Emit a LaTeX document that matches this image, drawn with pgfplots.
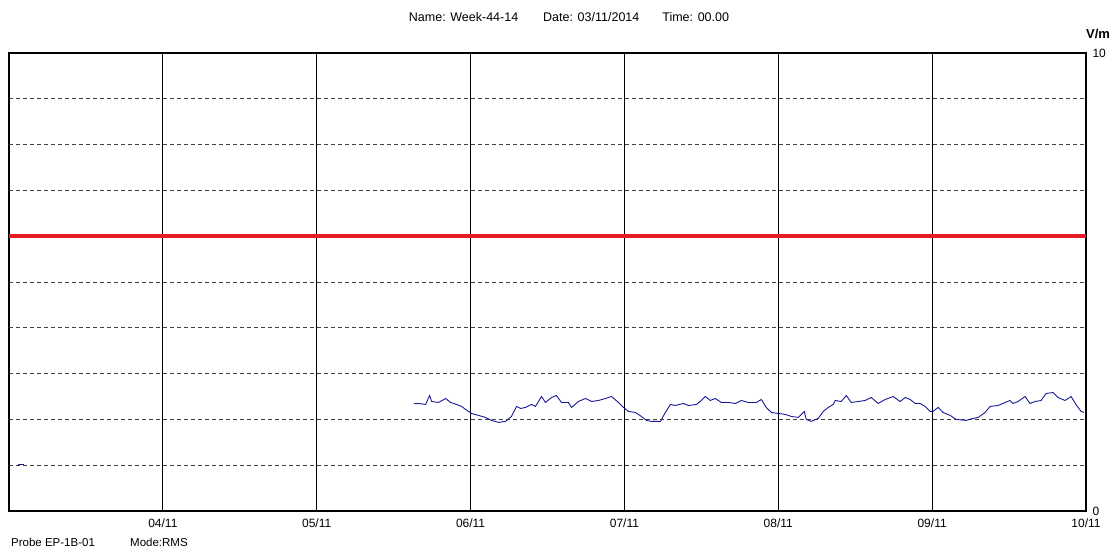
\documentclass[border=0pt]{standalone}
\usepackage{pgfplots}
\pgfplotsset{compat=1.18}
\usepackage{fontspec}
\setmainfont{Liberation Sans}
\definecolor{redline}{RGB}{230,28,36}
\definecolor{bluedata}{RGB}{25,25,150}
\begin{document}
\begin{tikzpicture}
\path[use as bounding box] (-9pt,-41pt) rectangle (1106pt,511pt);
\begin{axis}[
  at={(0pt,0pt)}, anchor=origin,
  scale only axis, width=1077pt, height=458pt,
  xmin=0, xmax=7, ymin=0, ymax=10,
  axis line style={line width=2pt, black},
  xtick={1,2,3,4,5,6,7},
  xticklabels={04/11,05/11,06/11,07/11,08/11,09/11,10/11},
  ytick={0,10},
  yticklabel pos=right,
  tick style={draw=none},
  xmajorgrids,
  major grid style={black, line width=0.8pt},
  extra y ticks={1,2,3,4,5,6,7,8,9},
  extra y tick labels={},
  extra y tick style={grid=major, major grid style={black!75, line width=0.8pt, dash pattern=on 4pt off 3pt}, tick style={draw=none}},
  ticklabel style={font=\fontsize{12pt}{14pt}\selectfont},
  xticklabel style={yshift=-4pt},
  yticklabel style={xshift=3pt},
  /pgf/number format/assume math mode=true,
  clip=true,
]
\addplot[redline, line width=4pt] coordinates {(0,6) (7,6)};
\addplot[bluedata, line width=0.9pt] coordinates {(0.058,1.02) (0.097,1.02)};
\addplot[bluedata, line width=0.9pt] coordinates {
(2.630,2.341)(2.662,2.348)(2.708,2.326)(2.734,2.522)(2.747,2.391)(2.792,2.370)
(2.838,2.457)(2.870,2.370)(2.909,2.326)(2.942,2.283)(2.968,2.217)(2.987,2.174)
(3.006,2.130)(3.052,2.087)(3.097,2.043)(3.136,1.978)(3.182,1.935)(3.227,1.957)
(3.266,2.065)(3.299,2.283)(3.325,2.239)(3.357,2.261)(3.396,2.326)(3.422,2.283)
(3.461,2.500)(3.487,2.370)(3.526,2.478)(3.558,2.522)(3.591,2.370)(3.636,2.370)
(3.656,2.261)(3.701,2.391)(3.747,2.457)(3.786,2.391)(3.831,2.413)(3.877,2.457)
(3.916,2.500)(3.961,2.370)(3.994,2.261)(4.026,2.174)(4.071,2.152)(4.110,2.065)
(4.143,1.978)(4.175,1.957)(4.234,1.957)(4.266,2.152)(4.299,2.326)(4.331,2.304)
(4.383,2.348)(4.416,2.304)(4.468,2.326)(4.500,2.413)(4.526,2.500)(4.558,2.413)
(4.591,2.457)(4.630,2.370)(4.675,2.370)(4.721,2.348)(4.760,2.413)(4.805,2.370)
(4.857,2.370)(4.890,2.435)(4.922,2.261)(4.955,2.152)(5.000,2.130)(5.045,2.109)
(5.084,2.065)(5.130,2.043)(5.169,2.174)(5.182,2.000)(5.214,1.957)(5.260,2.022)
(5.292,2.174)(5.325,2.261)(5.357,2.326)(5.370,2.413)(5.409,2.391)(5.442,2.522)
(5.474,2.370)(5.519,2.391)(5.565,2.413)(5.604,2.478)(5.649,2.348)(5.695,2.435)
(5.747,2.500)(5.792,2.391)(5.825,2.478)(5.857,2.435)(5.890,2.348)(5.922,2.348)
(5.955,2.283)(5.987,2.174)(6.006,2.174)(6.039,2.261)(6.071,2.152)(6.117,2.087)
(6.156,2.000)(6.221,1.978)(6.266,2.022)(6.299,2.043)(6.344,2.152)(6.377,2.283)
(6.429,2.304)(6.474,2.370)(6.506,2.413)(6.526,2.348)(6.558,2.391)(6.604,2.500)
(6.636,2.348)(6.669,2.391)(6.708,2.413)(6.740,2.565)(6.786,2.587)(6.818,2.478)
(6.864,2.413)(6.903,2.500)(6.935,2.326)(6.968,2.174)(6.987,2.152)
};
\end{axis}
\node[font=\fontsize{12.5pt}{14pt}\selectfont] at (560pt,494pt) {Name: Week-44-14\hspace{25pt}Date: 03/11/2014\hspace{23pt}Time: 00.00};
\node[font=\fontsize{13pt}{15pt}\selectfont\bfseries] at (1089pt,477pt) {V/m};
\node[font=\fontsize{11.5pt}{13pt}\selectfont, anchor=west, inner sep=0pt] at (2pt,-31pt) {Probe EP-1B-01};
\node[font=\fontsize{11.5pt}{13pt}\selectfont, anchor=west, inner sep=0pt] at (121pt,-31pt) {Mode:RMS};
\end{tikzpicture}
\end{document}
